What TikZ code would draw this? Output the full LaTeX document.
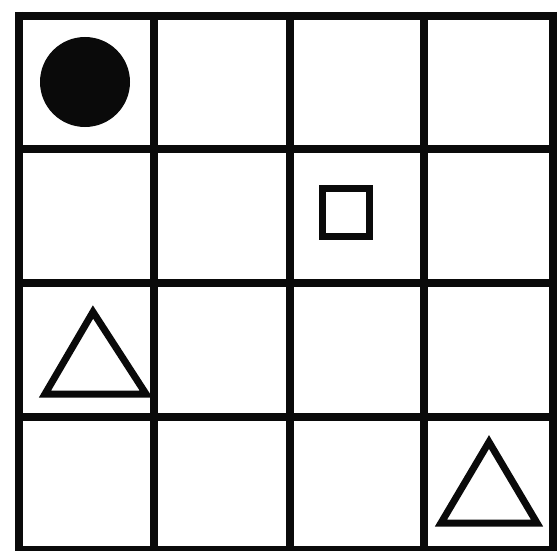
\documentclass[tikz,border=0pt]{standalone}
\usepackage{tikz}
\definecolor{inkblack}{HTML}{0A0A0A}

\begin{document}
\begin{tikzpicture}[x=1pt, y=-1pt,
  gridline/.style={inkblack, line width=8pt},
  shapeline/.style={inkblack, line width=7pt, line join=miter}]

  \useasboundingbox (0, 0) rectangle (557, 551);
  \fill[white] (0, 0) rectangle (557, 551);

  % Grid lines
  \foreach \x in {19, 154, 290, 424, 553} {
    \draw[gridline] (\x, 12) -- (\x, 555);
  }
  \foreach \y in {16, 149, 283, 417, 550} {
    \draw[gridline] (15, \y) -- (557, \y);
  }

  % Filled disc (row 1, column 1)
  \fill[inkblack] (85, 82) circle (45);

  % Small square (row 2, column 3)
  \draw[shapeline] (322.5, 188.5) rectangle (369.5, 236.5);

  % Triangles (row 3, column 1 and row 4, column 4)
  \draw[shapeline] (93, 312) -- (146, 394) -- (45, 394) -- cycle;
  \draw[shapeline] (489, 442) -- (537, 523) -- (441, 523) -- cycle;

\end{tikzpicture}
\end{document}
